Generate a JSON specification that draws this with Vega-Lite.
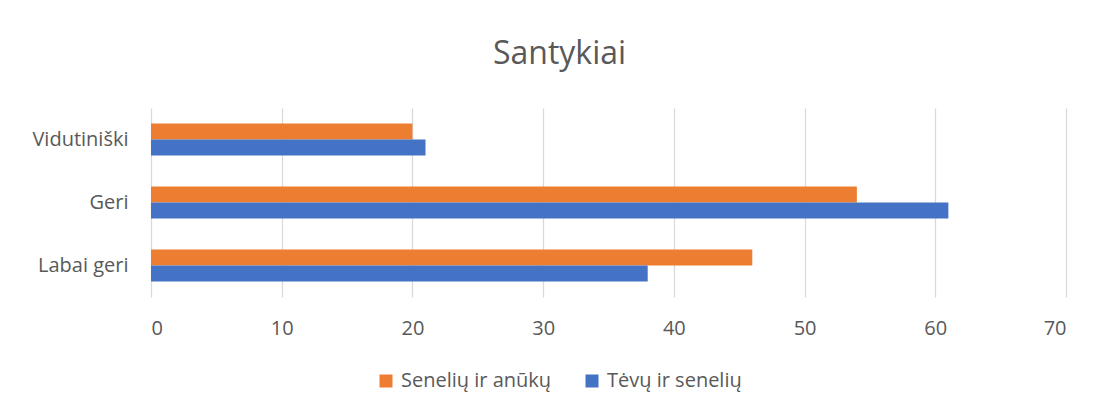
{
  "$schema": "https://vega.github.io/schema/vega-lite/v6.json",
  "autosize": {"type": "none"},
  "width": 915,
  "height": 189,
  "padding": {"left": 151, "top": 108, "right": 30, "bottom": 114},
  "background": "white",
  "title": {
    "text": "Santykiai",
    "anchor": "middle",
    "dx": -49,
    "offset": 37,
    "fontSize": 32,
    "fontWeight": "normal",
    "font": "Open Sans",
    "color": "#595959"
  },
  "data": {
    "values": [
      {"kategorija": "Vidutiniški", "serija": "Senelių ir anūkų", "reiksme": 20},
      {"kategorija": "Vidutiniški", "serija": "Tėvų ir senelių", "reiksme": 21},
      {"kategorija": "Geri", "serija": "Senelių ir anūkų", "reiksme": 54},
      {"kategorija": "Geri", "serija": "Tėvų ir senelių", "reiksme": 61},
      {"kategorija": "Labai geri", "serija": "Senelių ir anūkų", "reiksme": 46},
      {"kategorija": "Labai geri", "serija": "Tėvų ir senelių", "reiksme": 38}
    ]
  },
  "mark": {"type": "bar"},
  "encoding": {
    "y": {
      "field": "kategorija",
      "type": "nominal",
      "sort": ["Vidutiniški", "Geri", "Labai geri"],
      "scale": {"paddingInner": 0.49, "paddingOuter": 0.245},
      "axis": {
        "title": null,
        "ticks": false,
        "domain": false,
        "labelPadding": 23,
        "labelFontSize": 20,
        "labelFont": "Open Sans",
        "labelColor": "#595959"
      }
    },
    "yOffset": {
      "field": "serija",
      "type": "nominal",
      "sort": ["Senelių ir anūkų", "Tėvų ir senelių"]
    },
    "x": {
      "field": "reiksme",
      "type": "quantitative",
      "scale": {"domain": [0, 70]},
      "axis": {
        "title": null,
        "values": [0, 10, 20, 30, 40, 50, 60, 70],
        "ticks": false,
        "domain": false,
        "labelPadding": 21,
        "labelFontSize": 20,
        "labelFont": "Open Sans",
        "labelColor": "#595959",
        "gridColor": "#D9D9D9",
        "gridWidth": 1.3
      }
    },
    "color": {
      "field": "serija",
      "type": "nominal",
      "sort": ["Senelių ir anūkų", "Tėvų ir senelių"],
      "scale": {"domain": ["Senelių ir anūkų", "Tėvų ir senelių"], "range": ["#ED7D31", "#4472C4"]},
      "legend": {
        "title": null,
        "orient": "none",
        "direction": "horizontal",
        "legendX": 225,
        "legendY": 263,
        "symbolType": "square",
        "symbolSize": 169,
        "symbolStrokeWidth": 0,
        "symbolOpacity": 1,
        "labelFontSize": 20,
        "labelFont": "Open Sans",
        "labelColor": "#595959",
        "labelOffset": 5,
        "columnPadding": 30
      }
    }
  },
  "config": {"view": {"stroke": null}}
}
